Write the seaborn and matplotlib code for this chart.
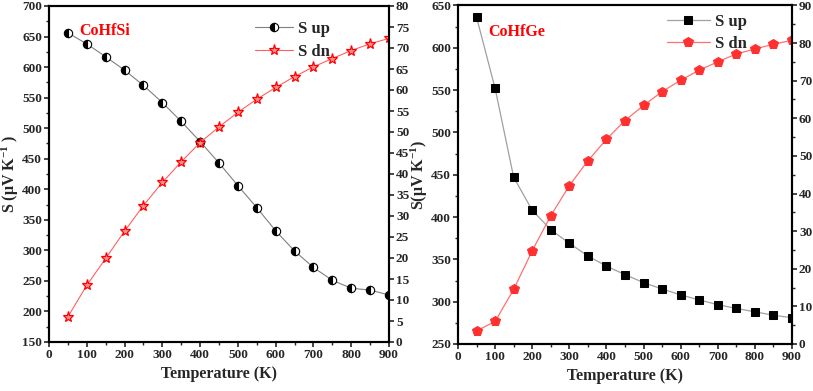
import matplotlib
matplotlib.use("Agg")
import matplotlib.pyplot as plt
from matplotlib.ticker import MultipleLocator
import seaborn as sns
import pandas as pd

temps = [50, 100, 150, 200, 250, 300, 350, 400, 450, 500,
         550, 600, 650, 700, 750, 800, 850, 900]

# CoHfSi
si_up = [656, 638, 617, 595, 570, 542, 511, 478, 443, 406,
         370, 332, 299, 272, 251, 238, 235, 227]
si_dn = [6.0, 13.5, 19.9, 26.4, 32.5, 38.0, 42.9, 47.5, 51.2, 54.7,
         57.8, 60.6, 63.2, 65.5, 67.5, 69.4, 71.0, 72.3]

# CoHfGe
ge_up = [636, 552, 447, 408, 385, 369, 354, 342, 332, 322.5,
         315, 308, 302, 296.5, 292, 288, 284, 281]
ge_dn = [3.5, 6.0, 14.5, 24.8, 34.1, 42.1, 48.7, 54.4, 59.4, 63.4,
         67.1, 70.1, 72.8, 75.0, 77.1, 78.4, 79.7, 80.7]

sns.set_theme(style="ticks")
plt.rcParams['font.family'] = ['Liberation Serif', 'DejaVu Serif']
plt.rcParams['font.weight'] = 'bold'
plt.rcParams['mathtext.fontset'] = 'custom'
plt.rcParams['mathtext.rm'] = 'Liberation Serif:bold'
plt.rcParams['mathtext.bf'] = 'Liberation Serif:bold'
plt.rcParams['mathtext.it'] = 'Liberation Serif:bold'

df_si = pd.DataFrame({"T": temps, "up": si_up, "dn": si_dn})
df_ge = pd.DataFrame({"T": temps, "up": ge_up, "dn": ge_dn})

fig = plt.figure(figsize=(8.13, 3.91), dpi=100)
ax1 = fig.add_axes([49/813, 1-342/391, 340/813, 336/391])
ax3 = fig.add_axes([458/813, 1-344/391, 334/813, 338.6/391])


def style_axes(ax, axr, ylim, ymaj, ymin, rlim, rmaj, rmin):
    ax.set_xlim(0, 900)
    ax.set_ylim(*ylim)
    axr.set_ylim(*rlim)
    ax.xaxis.set_major_locator(MultipleLocator(100))
    ax.xaxis.set_minor_locator(MultipleLocator(50))
    ax.yaxis.set_major_locator(MultipleLocator(ymaj))
    ax.yaxis.set_minor_locator(MultipleLocator(ymin))
    axr.yaxis.set_major_locator(MultipleLocator(rmaj))
    if rmin:
        axr.yaxis.set_minor_locator(MultipleLocator(rmin))
    for a in (ax, axr):
        a.tick_params(which='major', direction='out', length=3.5, width=1.2,
                      labelsize=9.5, pad=1.5)
        a.tick_params(which='minor', direction='out', length=2, width=1)
        for s in a.spines.values():
            s.set_linewidth(1.5)
            s.set_color('black')
        for lab in a.get_xticklabels() + a.get_yticklabels():
            lab.set_fontweight('bold')
    ax.set_xlabel('Temperature (K)', fontsize=11.5, fontweight='bold', labelpad=4)


# left panel
sns.lineplot(data=df_si, x="T", y="up", ax=ax1, color='gray', lw=0.8,
             marker='o', markersize=6, markerfacecolor='black',
             markerfacecoloralt='white', fillstyle='left',
             markeredgecolor='black', markeredgewidth=0.8, label='S up', legend=False)
ax2 = ax1.twinx()
sns.lineplot(data=df_si, x="T", y="dn", ax=ax2, color='#ff6060', lw=0.8,
             marker='*', markersize=8, markerfacecolor='#ff9090',
             markeredgecolor='red', markeredgewidth=0.9, label='S dn', legend=False)
ax2.set_ylabel('')
style_axes(ax1, ax2, (150, 700), 50, 25, (0, 80), 5, None)
ax1.set_ylabel('S (μV K$^{-1}$ )', fontsize=11.5, fontweight='bold', labelpad=1)
ax1.text(0.09, 0.925, 'CoHfSi', transform=ax1.transAxes, color='red',
         fontsize=11.5, fontweight='bold', va='center')
h1, l1 = ax1.get_legend_handles_labels()
h2, l2 = ax2.get_legend_handles_labels()
ax1.legend(h1 + h2, l1 + l2, loc='upper right', bbox_to_anchor=(0.87, 1.0),
           frameon=False, prop={'size': 12, 'weight': 'bold'},
           handlelength=2.3, handletextpad=0.3, labelspacing=0.4)

# right panel
sns.lineplot(data=df_ge, x="T", y="up", ax=ax3, color='#a0a0a0', lw=0.9,
             marker='s', markersize=5.5, markerfacecolor='black',
             markeredgecolor='black', label='S up', legend=False)
ax4 = ax3.twinx()
sns.lineplot(data=df_ge, x="T", y="dn", ax=ax4, color='#ff7070', lw=0.9,
             marker='p', markersize=7, markerfacecolor='#ff3030',
             markeredgecolor='#ff3030', label='S dn', legend=False)
ax4.set_ylabel('')
style_axes(ax3, ax4, (250, 650), 50, 25, (0, 90), 10, 5)
ax3.set_ylabel('S(μV K$^{-1}$)', fontsize=11.5, fontweight='bold', labelpad=1)
ax3.text(0.09, 0.92, 'CoHfGe', transform=ax3.transAxes, color='red',
         fontsize=11.5, fontweight='bold', va='center')
h3, l3 = ax3.get_legend_handles_labels()
h4, l4 = ax4.get_legend_handles_labels()
ax3.legend(h3 + h4, l3 + l4, loc='upper right', bbox_to_anchor=(0.91, 1.02),
           frameon=False, prop={'size': 12, 'weight': 'bold'},
           handlelength=2.6, handletextpad=0.3, labelspacing=0.4)

fig.savefig('out.png', dpi=100)
